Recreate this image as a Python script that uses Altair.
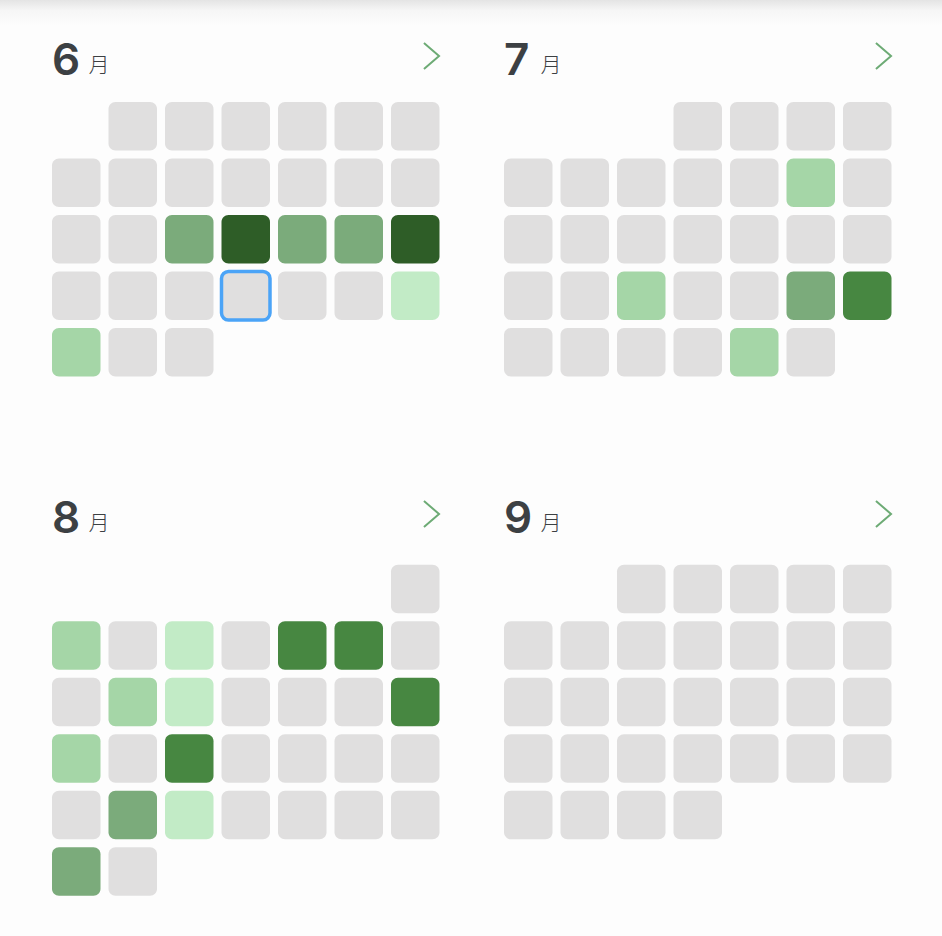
import altair as alt
import pandas as pd

# ---------------- data ----------------
months = [6, 7, 8, 9]
month_labels = ["6", "7", "8", "9"]
first_weekday_col = [2, 4, 7, 3]      # column (1..7) of day 1
panel_col = [0, 1, 0, 1]
panel_row = [0, 0, 1, 1]

june_levels = [0, 0, 0, 0, 0, 0,
               0, 0, 0, 0, 0, 0, 0,
               0, 0, 3, 5, 3, 3, 5,
               0, 0, 0, 0, 0, 0, 1,
               2, 0, 0]
july_levels = [0, 0, 0, 0,
               0, 0, 0, 0, 0, 2, 0,
               0, 0, 0, 0, 0, 0, 0,
               0, 0, 2, 0, 0, 3, 4,
               0, 0, 0, 0, 2, 0]
aug_levels = [0,
              2, 0, 1, 0, 4, 4, 0,
              0, 2, 1, 0, 0, 0, 4,
              2, 0, 4, 0, 0, 0, 0,
              0, 3, 1, 0, 0, 0, 0,
              3, 0]
sep_levels = [0, 0, 0, 0, 0,
              0, 0, 0, 0, 0, 0, 0,
              0, 0, 0, 0, 0, 0, 0,
              0, 0, 0, 0, 0, 0, 0,
              0, 0, 0, 0]
all_levels = [june_levels, july_levels, aug_levels, sep_levels]

highlight_month = 6
highlight_day = 24

level_names = [0, 1, 2, 3, 4, 5]
level_colors = ["#e0dfdf", "#c2ebc6", "#a5d6a7", "#7bab7b", "#478741", "#2e5d27"]

# ---------------- layout (grid units) ----------------
W, H = 942, 936
STEP = 56.5                 # px per grid unit
X0, Y0 = 52, 102            # px origin of first panel grid
CELL = 48.5 / STEP
PANEL_DX = 8.0
PANEL_DY = 462.8 / STEP
HEAD_DY = 458 / STEP

rows = []
for m, fc, pc, pr, lv in zip(months, first_weekday_col, panel_col, panel_row, all_levels):
    for d, level in enumerate(lv, start=1):
        k = fc - 1 + d - 1
        gx = pc * PANEL_DX + (k % 7)
        gy = pr * PANEL_DY + (k // 7)
        rows.append(dict(month=m, day=d, level=level, gx=gx, gx2=gx + CELL,
                         gy=gy, gy2=gy + CELL,
                         hl=(m == highlight_month and d == highlight_day)))
cells = pd.DataFrame(rows)

heads = pd.DataFrame(dict(label=month_labels, pc=panel_col, pr=panel_row))
heads["hx"] = heads["pc"] * PANEL_DX
heads["hy"] = heads["pr"] * HEAD_DY
heads["num_x"] = heads["hx"] + 0 / STEP
heads["num_y"] = heads["hy"] + (74.5 - Y0) / STEP
heads["yue_x"] = heads["hx"] + 36.5 / STEP
heads["yue_y"] = heads["hy"] + (71.5 - Y0) / STEP
heads["yue"] = "月"
heads["chev_x"] = heads["hx"] + (431.5 - X0) / STEP
heads["chev_y"] = heads["hy"] + (56 - Y0) / STEP

xscale = alt.Scale(domain=[-X0 / STEP, (W - X0) / STEP], nice=False, zero=False)
yscale = alt.Scale(domain=[-Y0 / STEP, (H - Y0) / STEP], nice=False, zero=False, reverse=True)

base_cells = alt.Chart(cells)

rects = base_cells.mark_rect(cornerRadius=7).encode(
    x=alt.X("gx:Q", scale=xscale, axis=None),
    x2="gx2:Q",
    y=alt.Y("gy:Q", scale=yscale, axis=None),
    y2="gy2:Q",
    color=alt.Color("level:O", scale=alt.Scale(domain=level_names, range=level_colors), legend=None),
)

hl = base_cells.transform_filter("datum.hl").mark_rect(
    cornerRadius=7, fillOpacity=0, stroke="#4ba4f7", strokeWidth=3.5
).encode(
    x=alt.X("gx:Q", scale=xscale, axis=None),
    x2="gx2:Q",
    y=alt.Y("gy:Q", scale=yscale, axis=None),
    y2="gy2:Q",
)

hbase = alt.Chart(heads)
nums = hbase.mark_text(font="Inter", fontSize=44, fontWeight=600, color="#3c4043",
                       align="left", baseline="alphabetic").encode(
    x=alt.X("num_x:Q", scale=xscale, axis=None),
    y=alt.Y("num_y:Q", scale=yscale, axis=None),
    text="label:N",
)
yue = hbase.mark_text(font="Noto Sans CJK SC", fontSize=21, fontWeight=300, color="#3c4043",
                      align="left", baseline="alphabetic").encode(
    x=alt.X("yue_x:Q", scale=xscale, axis=None),
    y=alt.Y("yue_y:Q", scale=yscale, axis=None),
    text="yue:N",
)
chev = hbase.mark_point(shape="M-0.58,-1L0.58,0L-0.58,1", filled=False, size=676,
                        strokeWidth=2, color="#6dab75", opacity=1).encode(
    x=alt.X("chev_x:Q", scale=xscale, axis=None),
    y=alt.Y("chev_y:Q", scale=yscale, axis=None),
)

shadow = alt.Chart(pd.DataFrame({"a": [0]})).mark_rect(
    color=alt.LinearGradient(gradient="linear", x1=0, x2=0, y1=0, y2=1,
                             stops=[alt.GradientStop(color="#e4e4e4", offset=0),
                                    alt.GradientStop(color="#f6f6f6", offset=0.4),
                                    alt.GradientStop(color="#fdfdfd", offset=1)])
).encode(x=alt.value(0), x2=alt.value(W), y=alt.value(0), y2=alt.value(26))

chart = alt.layer(shadow, rects, hl, nums, yue, chev).properties(
    width=W, height=H, padding=0, autosize="none", background="#fdfdfd"
).configure_view(strokeWidth=0)

chart.save("out.html", embed_options={"renderer": "svg", "actions": False})
